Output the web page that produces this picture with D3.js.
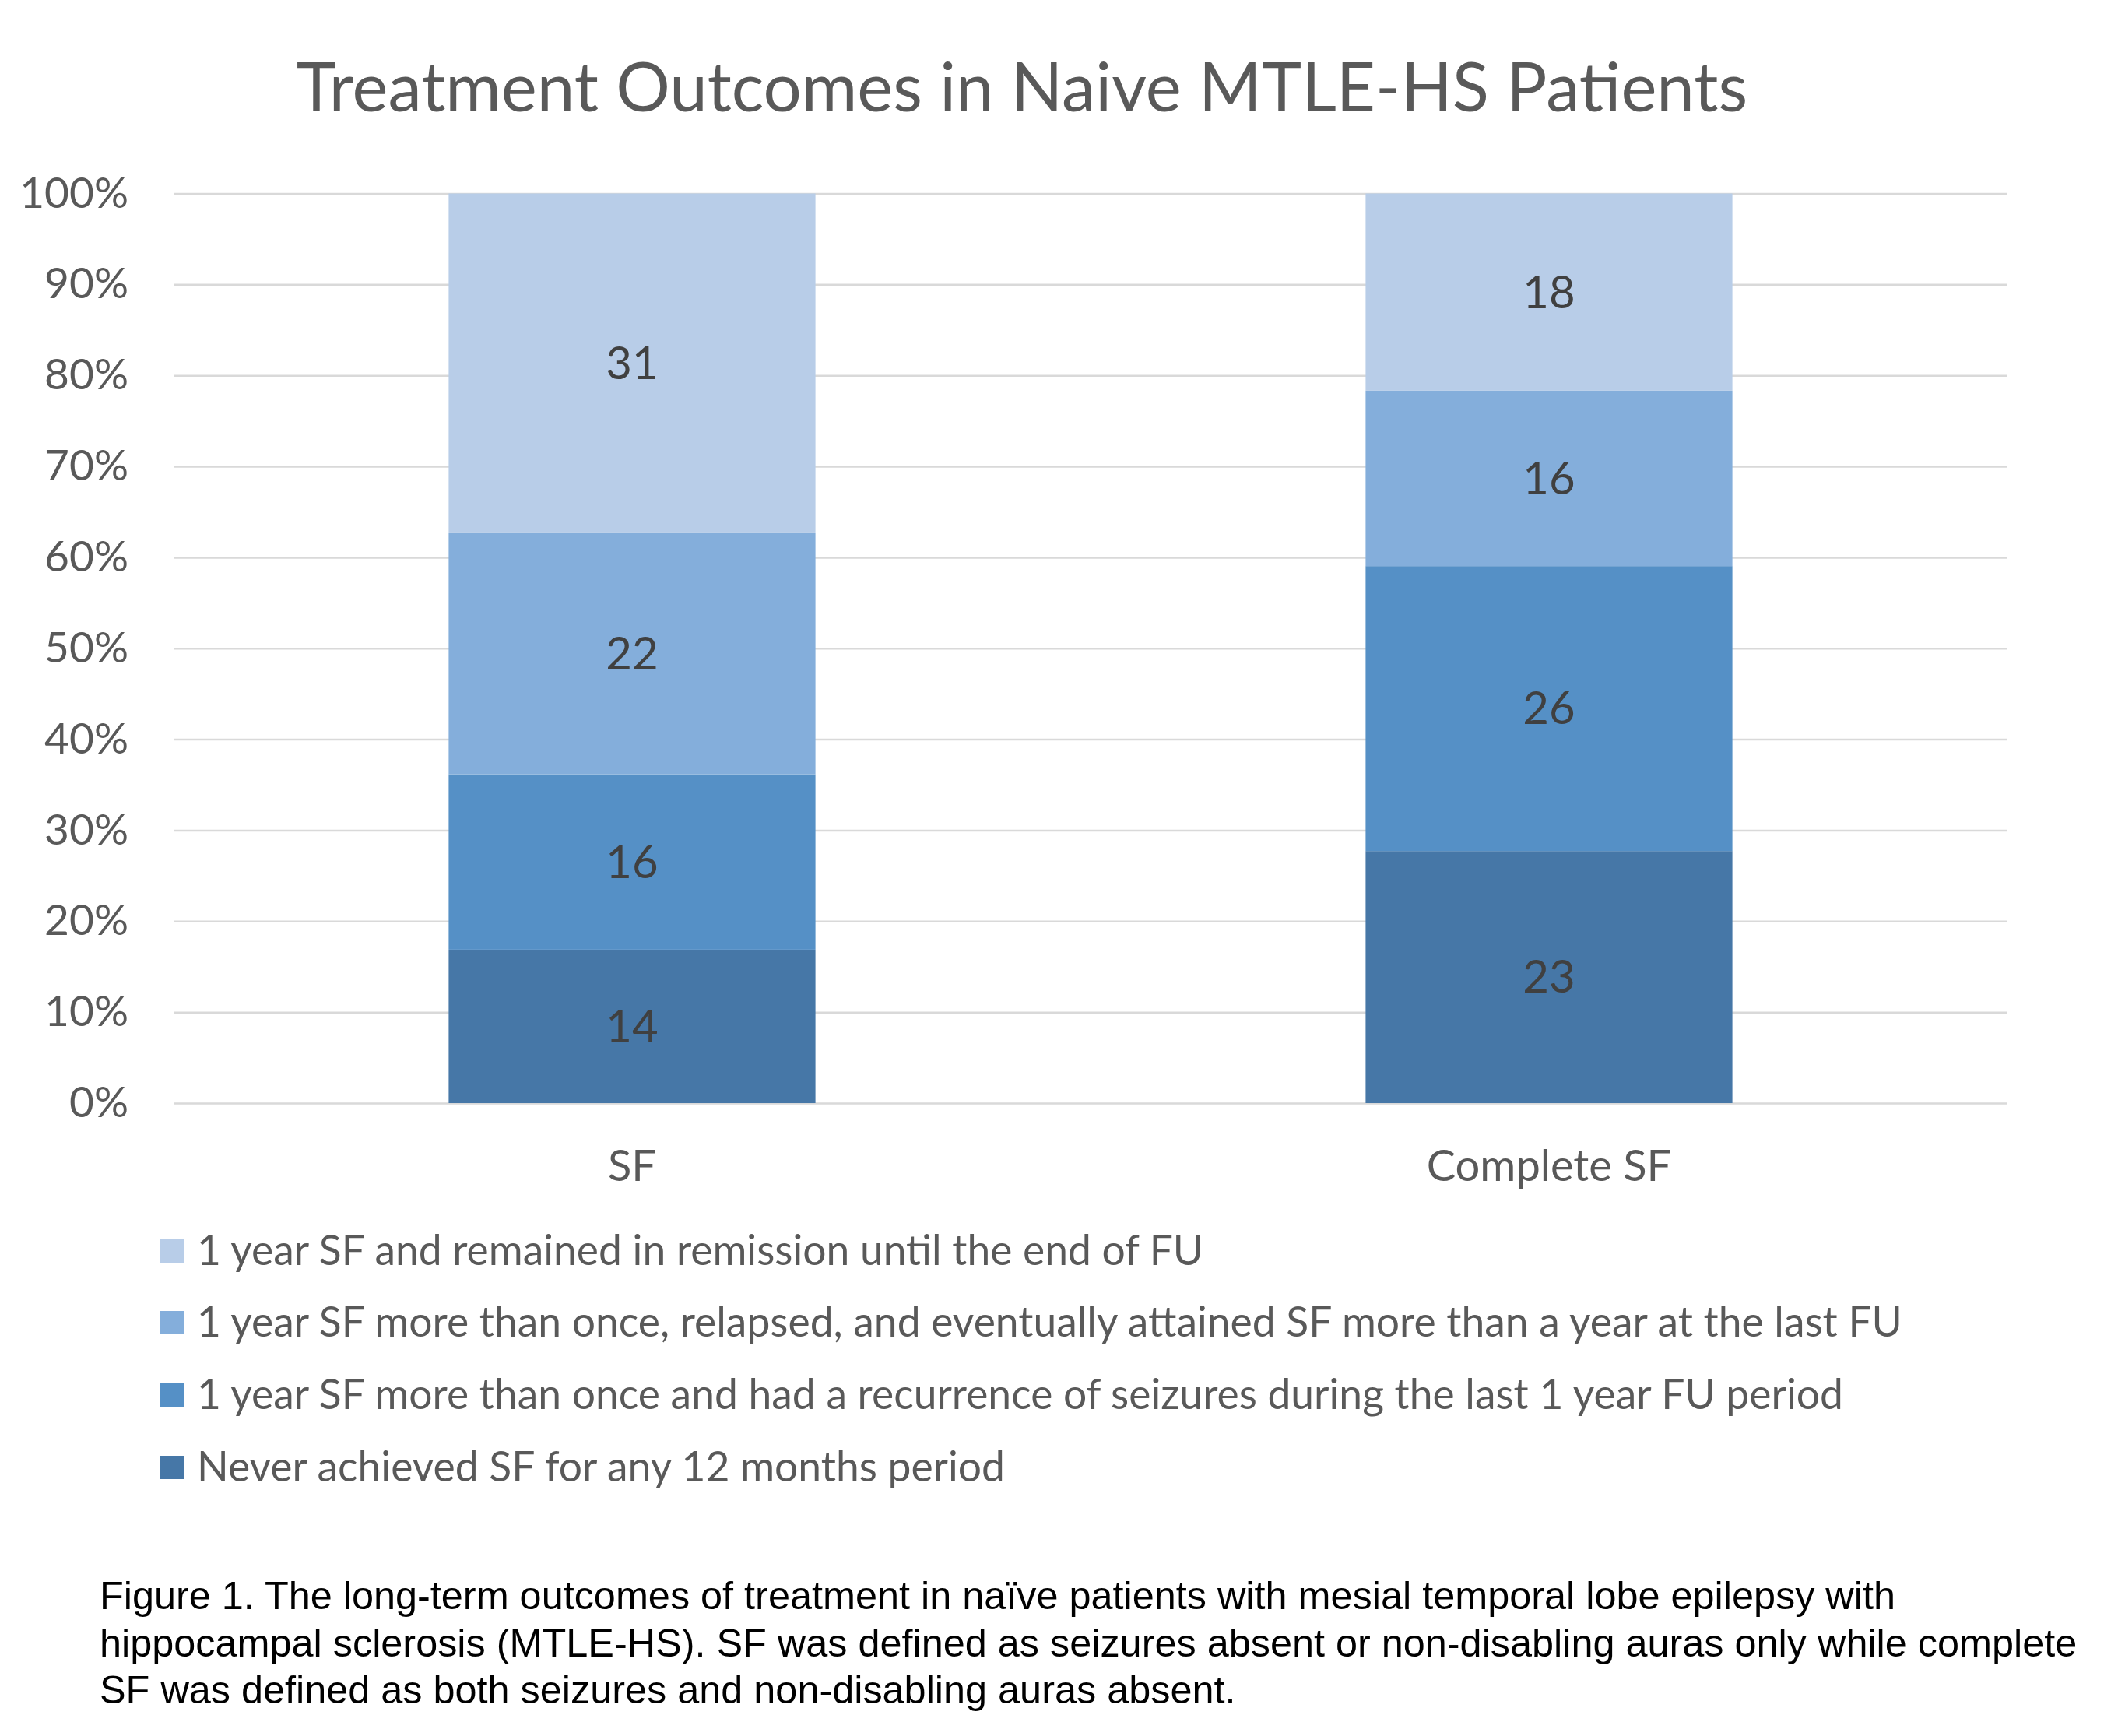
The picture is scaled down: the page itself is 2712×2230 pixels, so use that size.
<!DOCTYPE html>
<html>
<head>
<meta charset="utf-8">
<script src="https://cdn.jsdelivr.net/npm/d3@7"></script>
<style>
  body { margin: 0; background: #fff; }
  svg text { font-family: "Segoe UI", Lato, "Open Sans", sans-serif; }
</style>
</head>
<body>
<div id="chart"></div>
<script>
var categories = ["SF", "Complete SF"];
// stack order, bottom to top
var seriesNames = [
  "Never achieved SF for any 12 months period",
  "1 year SF more than once and had a recurrence of seizures during the last 1 year FU period",
  "1 year SF more than once, relapsed, and eventually attained SF more than a year at the last FU",
  "1 year SF and remained in remission until the end of FU"
];
var neverSF      = [14, 23];
var recurrence   = [16, 26];
var relapsed     = [22, 16];
var remission    = [31, 18];
var colors = ["#4677a7", "#5590c6", "#84aedb", "#b8cde8"];
var yTicks = [0, 0.1, 0.2, 0.3, 0.4, 0.5, 0.6, 0.7, 0.8, 0.9, 1];
var title = "Treatment Outcomes in Naive MTLE-HS Patients";
var caption = [
  "Figure 1. The long-term outcomes of treatment in naïve patients with mesial temporal lobe epilepsy with",
  "hippocampal sclerosis (MTLE-HS). SF was defined as seizures absent or non-disabling auras only while complete",
  "SF was defined as both seizures and non-disabling auras absent."
];

var W = 2712, H = 2230;
var plotLeft = 223, plotRight = 2579, plotTop = 248.5, plotBottom = 1417;

var svg = d3.select("#chart").append("svg")
  .attr("width", W).attr("height", H);

var seriesValues = [neverSF, recurrence, relapsed, remission];
var rows = categories.map(function(c, i) {
  var r = { cat: c };
  var total = 0;
  seriesValues.forEach(function(s, k) { r["s" + k] = s[i]; total += s[i]; });
  seriesValues.forEach(function(s, k) { r["p" + k] = s[i] / total; });
  return r;
});

var keys = ["p0", "p1", "p2", "p3"];
var stacked = d3.stack().keys(keys)(rows);

var x = d3.scaleBand().domain(categories).range([plotLeft, plotRight])
  .paddingInner(0.6).paddingOuter(0.3);
var y = d3.scaleLinear().domain([0, 1]).range([plotBottom, plotTop]);

// title
svg.append("text")
  .attr("x", 1313).attr("y", 143)
  .attr("text-anchor", "middle")
  .attr("fill", "#595959")
  .style("font-size", "87px")
  .text(title);

// y axis + gridlines
var yAxis = d3.axisLeft(y).tickValues(yTicks)
  .tickFormat(d3.format(".0%"))
  .tickSize(-(plotRight - plotLeft)).tickPadding(58);
var gy = svg.append("g").attr("transform", "translate(" + plotLeft + ",0)").call(yAxis);
gy.select(".domain").remove();
gy.selectAll("line").attr("stroke", "#d9d9d9").attr("stroke-width", 2.5);
gy.selectAll("text").attr("fill", "#595959").style("font-size", "55px");

// bars
var layer = svg.append("g").selectAll("g").data(stacked).enter().append("g")
  .attr("fill", function(d, i) { return colors[i]; });

layer.selectAll("rect").data(function(d) { return d; }).enter().append("rect")
  .attr("x", function(d) { return x(d.data.cat); })
  .attr("width", x.bandwidth())
  .attr("y", function(d) { return y(d[1]); })
  .attr("height", function(d) { return y(d[0]) - y(d[1]); });

// data labels
stacked.forEach(function(s, k) {
  svg.append("g").selectAll("text").data(s).enter().append("text")
    .attr("x", function(d) { return x(d.data.cat) + x.bandwidth() / 2; })
    .attr("y", function(d) { return (y(d[0]) + y(d[1])) / 2; })
    .attr("dy", "0.35em")
    .attr("text-anchor", "middle")
    .attr("fill", "#404040")
    .style("font-size", "58px")
    .text(function(d) { return d.data["s" + k]; });
});

// x axis labels
var xAxis = d3.axisBottom(x).tickSize(0).tickPadding(60);
var gx = svg.append("g").attr("transform", "translate(0," + plotBottom + ")").call(xAxis);
gx.select(".domain").remove();
gx.selectAll("text").attr("fill", "#595959").style("font-size", "56px");

// legend, top entry first
var legendY = [1625, 1717, 1810, 1903];
var legend = svg.append("g").selectAll("g").data(d3.range(4).reverse()).enter().append("g")
  .attr("transform", function(d, i) { return "translate(206," + legendY[i] + ")"; });
legend.append("rect")
  .attr("x", 0).attr("y", -33).attr("width", 30).attr("height", 30)
  .attr("fill", function(d) { return colors[d]; });
legend.append("text")
  .attr("x", 47).attr("y", 0)
  .attr("fill", "#595959")
  .style("font-size", "53.4px")
  .text(function(d) { return seriesNames[d]; });

// caption
svg.append("g").selectAll("text").data(caption).enter().append("text")
  .attr("x", 128)
  .attr("y", function(d, i) { return 2067 + i * 60.5; })
  .attr("fill", "#000")
  .style("font-family", "Arial, 'Liberation Sans', sans-serif")
  .style("font-size", "50.4px")
  .text(function(d) { return d; });
</script>
</body>
</html>
